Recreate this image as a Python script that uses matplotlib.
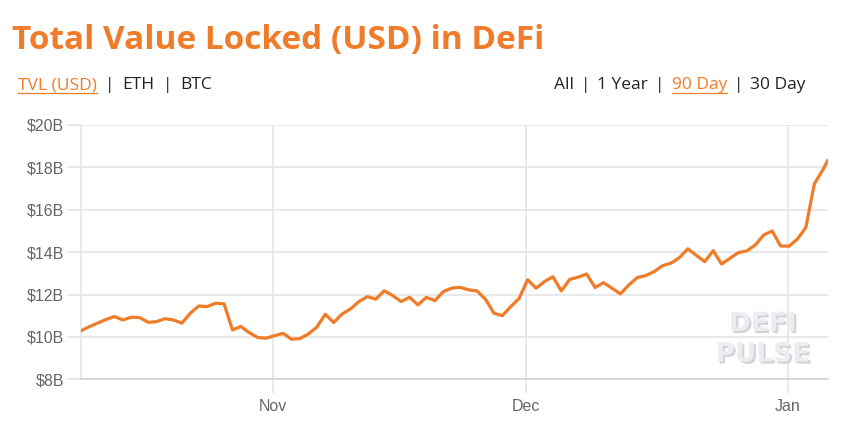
import pandas as pd
import matplotlib.pyplot as plt
import matplotlib.patheffects as pe

# TVL in billions USD, one reading per day from Oct 9 2020, last one is a partial day
tvl = [10.28, 10.48, 10.65, 10.82, 10.96, 10.80, 10.93, 10.91, 10.69, 10.72,
       10.86, 10.80, 10.65, 11.12, 11.46, 11.43, 11.59, 11.56, 10.33, 10.49,
       10.20, 9.97, 9.94, 10.06, 10.17, 9.89, 9.92, 10.14, 10.46, 11.07,
       10.68, 11.08, 11.32, 11.67, 11.90, 11.78, 12.18, 11.95, 11.67, 11.87,
       11.51, 11.87, 11.71, 12.14, 12.30, 12.34, 12.22, 12.17, 11.78, 11.12,
       11.00, 11.43, 11.82, 12.70, 12.30, 12.61, 12.84, 12.17, 12.72, 12.82,
       12.97, 12.33, 12.56, 12.30, 12.03, 12.45, 12.80, 12.89, 13.08, 13.36,
       13.48, 13.74, 14.16, 13.85, 13.55, 14.07, 13.44, 13.71, 13.98, 14.06,
       14.34, 14.81, 15.00, 14.29, 14.28, 14.62, 15.17, 17.22, 17.88, 18.32]

dates = list(pd.date_range("2020-10-09 04:00", periods=len(tvl) - 1, freq="D"))
dates.append(pd.Timestamp("2021-01-05 18:00"))

y_ticks = [8, 10, 12, 14, 16, 18, 20]
y_labels = ["$8B", "$10B", "$12B", "$14B", "$16B", "$18B", "$20B"]
x_ticks = ["2020-11-01", "2020-12-01", "2021-01-01"]
x_labels = ["Nov", "Dec", "Jan"]

# header menus: (label, selected)
left_menu = [("TVL (USD)", True), ("ETH", False), ("BTC", False)]
right_menu = [("All", False), ("1 Year", False), ("90 Day", True), ("30 Day", False)]

orange = "#f07b28"
grid = "#e3e3e3"

plt.rcParams['font.family'] = ['Liberation Sans', 'DejaVu Sans']

fig = plt.figure(figsize=(8.45, 4.22), dpi=100)
ax = fig.add_axes([0.0955, 0.1012, 0.884, 0.6026])

ax.plot(dates, tvl, color=orange, lw=2.3, zorder=3)

ax.set_ylim(8, 20)
ax.set_xlim(dates[0], dates[-1])
ax.set_yticks(y_ticks)
ax.set_yticklabels(y_labels)
ax.set_xticks([pd.Timestamp(d) for d in x_ticks])
ax.set_xticklabels(x_labels)

ax.grid(True, color=grid, lw=1.1)
ax.set_axisbelow(True)
for s in ['top', 'right']:
    ax.spines[s].set_visible(False)
ax.spines['left'].set_color(grid)
ax.spines['bottom'].set_color('#cfcfcf')
ax.spines['left'].set_linewidth(1.1)
ax.spines['bottom'].set_linewidth(1.1)
ax.tick_params(axis='both', length=10, width=1.1, color=grid, labelcolor='#666666',
               labelsize=11.5, pad=2)
ax.tick_params(axis='x', pad=4)

# watermark
wm = dict(transform=ax.transAxes, color='#ededf1', fontsize=19, fontweight='bold',
          family='DejaVu Sans', ha='center', zorder=2,
          path_effects=[pe.withSimplePatchShadow(offset=(1.5, -1.5),
                                                 shadow_rgbFace='#d2d2da', alpha=1)])
ax.text(0.913, 0.19, "DEFI", **wm)
ax.text(0.913, 0.07, "PULSE", **wm)

# header
fig.text(0.014, 0.885, "Total Value Locked (USD) in DeFi", color=orange,
         fontsize=24, fontweight='bold', family='Open Sans')

renderer = fig.canvas.get_renderer()
sub = dict(fontsize=12.5, family='Open Sans', va='baseline')
base_y = 422 - 89  # baseline in pixels from the bottom


def draw_menu(items, x0, gap):
    x = x0
    for i, (label, sel) in enumerate(items):
        if i > 0:
            t = fig.text(x, base_y, "|", color='#222222', transform=None, **sub)
            x = t.get_window_extent(renderer).x1 + gap
        t = fig.text(x, base_y, label, color=orange if sel else '#222222',
                     transform=None, **sub)
        bb = t.get_window_extent(renderer)
        if sel:
            fig.add_artist(plt.Line2D([bb.x0, bb.x1], [base_y - 4, base_y - 4],
                                      color=orange, lw=0.9, transform=None))
        x = bb.x1 + gap
    return x


draw_menu(left_menu, 18, 8)
# draw right menu at 0, then shift it so it ends at x=806
end = draw_menu(right_menu, 0, 7)
shift = 806 - (end - 7)
for t in fig.texts[-(2 * len(right_menu) - 1):]:
    t.set_x(t.get_position()[0] + shift)
ul = fig.artists[-1]
ul.set_xdata([v + shift for v in ul.get_xdata()])

fig.savefig("out.png", dpi=100)
